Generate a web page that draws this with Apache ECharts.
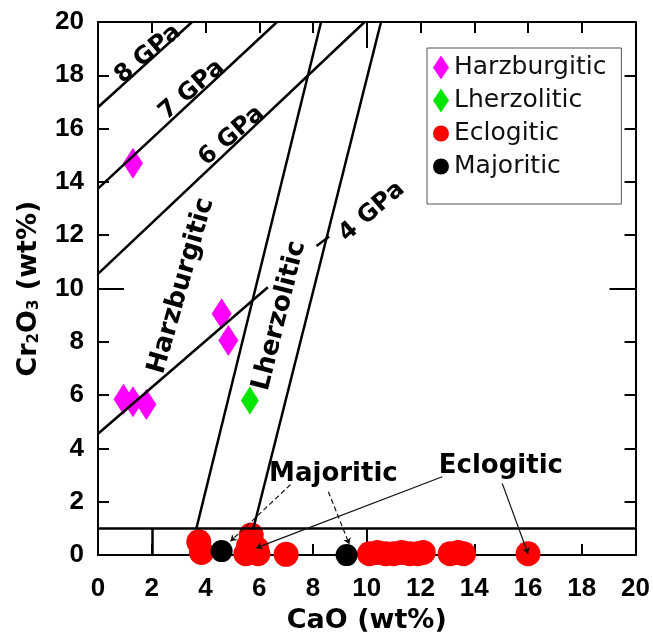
<!DOCTYPE html>
<html><head><meta charset="utf-8">
<script src="https://cdn.jsdelivr.net/npm/echarts@6/dist/echarts.min.js"></script>
<style>html,body{margin:0;padding:0;background:#fff}#c{width:653px;height:639px}</style>
</head><body><div id="c"></div>
<script>
// ---- axis setup ----
const axisMin = 0, axisMax = 20, tickStep = 2, majorStep = 10;
const xName = 'CaO (wt%)';

// ---- series data (CaO, Cr2O3) ----
const harzburgiticX = [1.3, 4.6, 4.85, 0.95, 1.3, 1.8];
const harzburgiticY = [14.7, 9.05, 8.05, 5.85, 5.75, 5.65];
const lherzoliticX = [5.65];
const lherzoliticY = [5.8];
const eclogiticX = [3.75, 3.85, 5.7, 5.5, 5.6, 5.9, 5.95, 7.0, 10.1, 10.4, 10.7, 11.0, 11.3, 11.6, 11.9, 12.1, 13.1, 13.4, 13.6, 16.0];
const eclogiticY = [0.5, 0.1, 0.75, 0.05, 0.35, 0.25, 0.05, 0.03, 0.05, 0.1, 0.05, 0.05, 0.1, 0.05, 0.05, 0.1, 0.05, 0.1, 0.05, 0.05];
const majoriticX = [4.6, 9.25];
const majoriticY = [0.15, 0.0];

// ---- field boundaries / isobars ----
const isobar4 = [[0, 4.55], [6.32, 10.05]];
const isobar4b = [[8.13, 11.6], [8.6, 11.95]];
const isobar6 = [[0, 10.55], [9.92, 20]];
const isobar7 = [[0, 13.75], [6.66, 20]];
const isobar8 = [[0, 16.8], [3.5, 20]];
const harzBoundary = [[3.66, 1], [8.3, 20]];
const lherzBoundary = [[5.78, 1], [10.53, 20]];
const cr1Line = [[0, 1], [20, 1]];
const divider2 = [[2, 0], [2, 1]];

// ---- leaders ----
const majLeader1 = [[7.16, 2.64], [4.93, 0.52]];
const majLeader2 = [[8.57, 2.38], [9.35, 0.41]];
const eclLeader1 = [[12.81, 2.94], [5.89, 0.27]];
const eclLeader2 = [[15.04, 2.69], [16.0, 0.05]];

// ---- annotation labels ----
const annotTexts = ['8 GPa', '7 GPa', '6 GPa', '4 GPa', 'Harzburgitic', 'Lherzolitic', 'Majoritic', 'Eclogitic'];
const annotX = [1.86, 3.49, 4.97, 10.19, 3.1, 6.75, 8.76, 14.99];
const annotY = [18.8, 17.45, 15.72, 12.88, 10.1, 8.98, 3.02, 3.35];
const annotRot = [40, 41, 41, 41, 74, 76, 0, 0];

const legendNames = ['Harzburgitic', 'Lherzolitic', 'Eclogitic', 'Majoritic'];

function zip(xs, ys) { return xs.map((x, i) => [x, ys[i]]); }

const chart = echarts.init(document.getElementById('c'), null, {renderer: 'canvas'});
const lineCol = '#000';
function xAx(pos, step, len, showLine, labels) {
  return {
    type: 'value', position: pos, min: axisMin, max: axisMax, interval: step,
    axisLine: {show: showLine, onZero: false, lineStyle: {color: lineCol, width: 2}},
    axisTick: {show: true, inside: true, length: len, lineStyle: {color: lineCol, width: 2}},
    axisLabel: labels ? {show: true, margin: 21, color: '#000', fontFamily: 'Liberation Sans', fontWeight: 'bold', fontSize: 26} : {show: false},
    splitLine: {show: false}
  };
}
function yAx(pos, step, len, showLine, labels) {
  return {
    type: 'value', position: pos, min: axisMin, max: axisMax, interval: step,
    axisLine: {show: showLine, onZero: false, lineStyle: {color: lineCol, width: 2}},
    axisTick: {show: true, inside: true, length: len, lineStyle: {color: lineCol, width: 2}},
    axisLabel: labels ? {show: true, margin: 14, color: '#000', fontFamily: 'Liberation Sans', fontWeight: 'bold', fontSize: 26} : {show: false},
    splitLine: {show: false}
  };
}
const xA0 = xAx('bottom', tickStep, 11, true, true);
xA0.name = xName; xA0.nameLocation = 'middle'; xA0.nameGap = 42;
xA0.nameTextStyle = {fontFamily: 'DejaVu Sans', fontWeight: 'bold', fontSize: 27, color: '#000'};
const yA0 = yAx('left', tickStep, 11, true, true);
yA0.name = 'Cr{s|2}O{s|3} (wt%)'; yA0.nameLocation = 'middle'; yA0.nameGap = 56; yA0.nameRotate = 90;
yA0.nameTextStyle = {fontFamily: 'DejaVu Sans', fontWeight: 'bold', fontSize: 27, color: '#000',
  rich: {s: {fontFamily: 'DejaVu Sans', fontWeight: 'bold', fontSize: 15, color: '#000', verticalAlign: 'bottom', padding: [12, 0, 0, 0]}}};

function seg(coords) { return {coords: coords}; }

const option = {
  animation: false,
  backgroundColor: '#fff',
  grid: {left: 98, right: 16, top: 22, bottom: 80, containLabel: false},
  xAxis: [xA0, xAx('top', tickStep, 11, true, false), xAx('bottom', majorStep, 26, false, false), xAx('top', majorStep, 26, false, false)],
  yAxis: [yA0, yAx('right', tickStep, 11, true, false), yAx('left', majorStep, 26, false, false), yAx('right', majorStep, 26, false, false)],
  legend: {
    data: legendNames, orient: 'vertical', left: 427, top: 48,
    padding: [7, 15, 25, 6], itemGap: 8, itemWidth: 16, itemHeight: 24,
    borderColor: '#555', borderWidth: 1, backgroundColor: '#fff',
    textStyle: {fontFamily: 'DejaVu Sans', fontSize: 25, color: '#111'}
  },
  series: [
    {name: 'Harzburgitic', type: 'scatter', symbol: 'diamond', symbolSize: [20, 31], clip: false, z: 2,
      itemStyle: {color: '#ff00ff', opacity: 1}, data: zip(harzburgiticX, harzburgiticY)},
    {name: 'Lherzolitic', type: 'scatter', symbol: 'diamond', symbolSize: [18, 28], clip: false, z: 2,
      itemStyle: {color: '#00e600', opacity: 1}, data: zip(lherzoliticX, lherzoliticY)},
    {name: 'Eclogitic', type: 'scatter', symbol: 'circle', symbolSize: 25, clip: false, z: 2,
      itemStyle: {color: '#ff0000', opacity: 1}, data: zip(eclogiticX, eclogiticY)},
    {name: 'Majoritic', type: 'scatter', symbol: 'circle', symbolSize: 22, clip: false, z: 2,
      itemStyle: {color: '#000', opacity: 1}, data: zip(majoriticX, majoriticY)},
    {type: 'lines', coordinateSystem: 'cartesian2d', z: 3, silent: true, clip: false,
      lineStyle: {color: '#000', width: 2.5, opacity: 1},
      data: [isobar4, isobar4b, isobar6, isobar7, isobar8, harzBoundary, lherzBoundary, cr1Line, divider2].map(seg)},
    {type: 'lines', coordinateSystem: 'cartesian2d', z: 4, silent: true, clip: false,
      symbol: ['none', 'arrow'], symbolSize: 6,
      lineStyle: {color: '#111', width: 1.2, type: [5, 3], opacity: 1},
      data: [majLeader1, majLeader2].map(seg)},
    {type: 'lines', coordinateSystem: 'cartesian2d', z: 4, silent: true, clip: false,
      symbol: ['none', 'arrow'], symbolSize: 6,
      lineStyle: {color: '#111', width: 1.2, opacity: 1},
      data: [eclLeader1, eclLeader2].map(seg)},
    {type: 'scatter', z: 5, silent: true, clip: false, symbolSize: 0,
      itemStyle: {opacity: 1},
      label: {show: true, position: 'inside', formatter: '{b}', color: '#000',
        fontFamily: 'DejaVu Sans', fontWeight: 'bold', fontSize: 26},
      data: annotTexts.map((t, i) => ({name: t, value: [annotX[i], annotY[i]],
        label: {rotate: annotRot[i], fontSize: i < 4 ? 24 : 26}}))}
  ]
};
chart.setOption(option);
</script></body></html>
